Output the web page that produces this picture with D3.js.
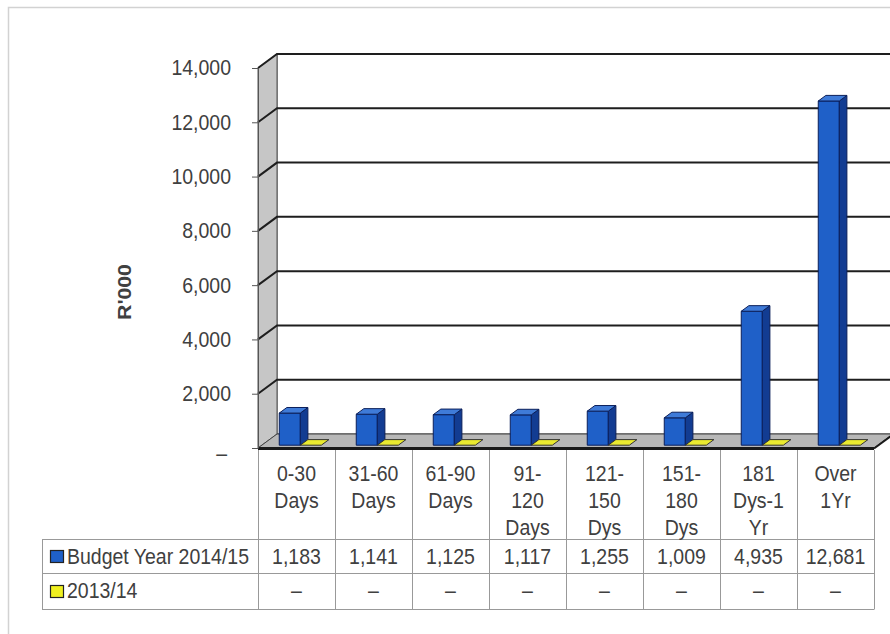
<!DOCTYPE html>
<html>
<head>
<meta charset="utf-8">
<script src="https://cdn.jsdelivr.net/npm/d3@7"></script>
<style>
  html, body { margin: 0; padding: 0; background: #fff; }
  svg { display: block; }
  text { font-family: "Liberation Sans", Arial, sans-serif; fill: #404040; }
</style>
</head>
<body>
<svg id="chart" width="890" height="634"></svg>
<script>
// ---- data ----
const categories = ["0-30 Days", "31-60 Days", "61-90 Days", "91-120 Days", "121-150 Dys", "151-180 Dys", "181 Dys-1 Yr", "Over 1Yr"];
const categoryLines = [["0-30", "Days"], ["31-60", "Days"], ["61-90", "Days"], ["91-", "120", "Days"], ["121-", "150", "Dys"], ["151-", "180", "Dys"], ["181", "Dys-1", "Yr"], ["Over", "1Yr"]];
const seriesNames = ["Budget Year 2014/15", "2013/14"];
const budget2014 = [1183, 1141, 1125, 1117, 1255, 1009, 4935, 12681];
const year2013 = [0, 0, 0, 0, 0, 0, 0, 0];
const yTicks = [0, 2000, 4000, 6000, 8000, 10000, 12000, 14000];
const axisTitle = "R'000";

// ---- layout ----
const svg = d3.select("#chart");
const S = 1.12; // vertical text stretch
const FS = 19.5;
const left = 258, right = 874, y0 = 448, yTop = 68;
const DX = 19, DY = -14;      // wall depth
const f0 = 0.2, f1 = 0.6;     // bar depth fractions
const series = [
  { name: seriesNames[0], values: budget2014, front: "#1f60c8", side: "#123c92", top: "#3f7bd8", stroke: "#0b1f5a" },
  { name: seriesNames[1], values: year2013, front: "#e4e41a", side: "#b0b010", top: "#eaea30", stroke: "#333" }
];

const x = d3.scaleBand().domain(categories).range([left, right]).paddingInner(0).paddingOuter(0);
const x1 = d3.scaleBand().domain(seriesNames).range([0, x.bandwidth()]).paddingInner(0).paddingOuter(0.83);
const y = d3.scaleLinear().domain([0, 14000]).range([y0, yTop]);

// outer frame
svg.append("path").attr("d", "M8.5,634 L8.5,7.5 L890,7.5").attr("fill", "none").attr("stroke", "#d2d2d2").attr("stroke-width", 1.5);

// back wall
svg.append("rect").attr("x", left + DX).attr("y", y(14000) + DY).attr("width", right - left).attr("height", y0 - y(14000))
  .attr("fill", "#fff").attr("stroke", "#333").attr("stroke-width", 1);

// left wall
svg.append("path")
  .attr("d", `M${left},${y(14000)} L${left + DX},${y(14000) + DY} L${left + DX},${y0 + DY} L${left},${y0} Z`)
  .attr("fill", "#c6c6c6").attr("stroke", "#555").attr("stroke-width", 1);

// gridlines (back wall + left wall)
const grid = svg.append("g");
yTicks.forEach(t => {
  if (t === 0) return;
  grid.append("path")
    .attr("d", `M${left},${y(t)} L${left + DX},${y(t) + DY} L${right + DX + 20},${y(t) + DY}`)
    .attr("fill", "none").attr("stroke", "#1e1e1e").attr("stroke-width", 2);
});

// floor
svg.append("path")
  .attr("d", `M${left},${y0} L${right},${y0} L${right + DX},${y0 + DY} L${left + DX},${y0 + DY} Z`)
  .attr("fill", "#b8b8b8").attr("stroke", "#444").attr("stroke-width", 1);
svg.append("line").attr("x1", left).attr("x2", right).attr("y1", y0 + 0.5).attr("y2", y0 + 0.5)
  .attr("stroke", "#1a1a1a").attr("stroke-width", 3);
svg.append("line").attr("x1", right).attr("x2", right + DX).attr("y1", y0 + 0.5).attr("y2", y0 + DY + 0.5)
  .attr("stroke", "#1a1a1a").attr("stroke-width", 2);

// y axis
const axis = svg.append("g").attr("transform", `translate(${left},0)`)
  .call(d3.axisLeft(y).tickValues(yTicks).tickSize(6).tickPadding(21).tickSizeOuter(0)
    .tickFormat(d => d === 0 ? "–" : d3.format(",")(d)));
axis.select(".domain").attr("stroke", "#555");
axis.selectAll(".tick line").attr("stroke", "#555");
axis.selectAll(".tick text").attr("font-size", FS).attr("fill", "#404040")
  .attr("font-family", "Liberation Sans, Arial, sans-serif")
  .attr("transform", `scale(1,${S})`);
axis.selectAll(".tick").filter(d => d === 0).select("text").attr("dx", -4).attr("dy", "0.55em");

// axis title
svg.append("text").attr("transform", `translate(131,292) scale(1,${S}) rotate(-90)`)
  .attr("text-anchor", "middle").attr("font-size", 19).attr("font-weight", "bold").attr("fill", "#222")
  .text(axisTitle);

// bars
const bx0 = DX * f0, by0 = DY * f0, bdx = DX * (f1 - f0), bdy = DY * (f1 - f0);
const bars = svg.append("g");
categories.forEach((c, i) => {
  series.forEach(s => {
    const v = s.values[i];
    const xl = x(c) + x1(s.name) + bx0;
    const w = x1.bandwidth();
    const yb = y(0) + by0, yt = y(v) + by0;
    const g = bars.append("g").attr("stroke", s.stroke).attr("stroke-width", 1).attr("stroke-linejoin", "round");
    if (v > 0) {
      g.append("rect").attr("x", xl).attr("y", yt).attr("width", w).attr("height", yb - yt).attr("fill", s.front);
      g.append("path").attr("d", `M${xl + w},${yt} L${xl + w + bdx},${yt + bdy} L${xl + w + bdx},${yb + bdy} L${xl + w},${yb} Z`).attr("fill", s.side);
    }
    g.append("path").attr("d", `M${xl},${yt} L${xl + w},${yt} L${xl + w + bdx},${yt + bdy} L${xl + bdx},${yt + bdy} Z`).attr("fill", s.top);
  });
});

// data table
const tbl = svg.append("g");
const rowTop = 539, row1 = 573, row2 = 609, tblLeft = 42;
const lineC = "#999";
x.domain().forEach((c, i) => {
  tbl.append("line").attr("x1", x(c) + 0.5).attr("x2", x(c) + 0.5).attr("y1", y0 + 2).attr("y2", row2).attr("stroke", lineC);
});
tbl.append("line").attr("x1", right + 0.5).attr("x2", right + 0.5).attr("y1", y0 + 2).attr("y2", row2).attr("stroke", lineC);
[rowTop, row1, row2].forEach(yy => {
  tbl.append("line").attr("x1", tblLeft).attr("x2", right + 0.5).attr("y1", yy + 0.5).attr("y2", yy + 0.5).attr("stroke", lineC);
});
tbl.append("line").attr("x1", tblLeft + 0.5).attr("x2", tblLeft + 0.5).attr("y1", rowTop).attr("y2", row2).attr("stroke", lineC);

function stext(g, tx, ty, str, anchor) {
  return g.append("text").attr("transform", `translate(${tx},${ty}) scale(1,${S})`)
    .attr("text-anchor", anchor || "middle").attr("font-size", FS).text(str);
}

// header labels
categories.forEach((c, i) => {
  const cx = x(c) + x.bandwidth() / 2;
  categoryLines[i].forEach((ln, k) => stext(tbl, cx, 481 + k * 27, ln));
});

// rows
const rowBase = [564, 598];
series.forEach((s, r) => {
  const ky = r === 0 ? 550 : 585;
  tbl.append("rect").attr("x", 50.5).attr("y", ky + 0.5).attr("width", 13).attr("height", 12)
    .attr("fill", r === 0 ? "#1f60c8" : "#f0f020").attr("stroke", "#222").attr("stroke-width", 1.2);
  stext(tbl, 67, rowBase[r], s.name, "start");
  categories.forEach((c, i) => {
    const v = s.values[i];
    stext(tbl, x(c) + x.bandwidth() / 2, rowBase[r], v === 0 ? "–" : d3.format(",")(v));
  });
});
</script>
</body>
</html>
